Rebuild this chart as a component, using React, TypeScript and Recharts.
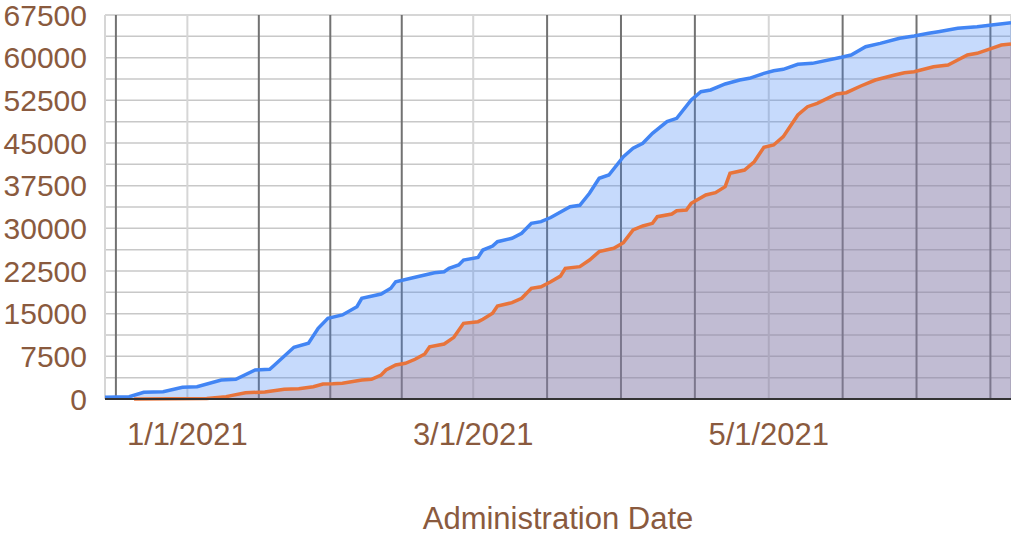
import { ComposedChart, Area, Line, XAxis, YAxis, CartesianGrid } from 'recharts'

// first dose (blue)
const firstDoseDates = [
  '2020-12-15', '2020-12-20', '2020-12-23', '2020-12-27', '2020-12-31', '2021-01-03',
  '2021-01-08', '2021-01-11', '2021-01-15', '2021-01-18', '2021-01-19', '2021-01-23',
  '2021-01-26', '2021-01-28', '2021-01-30', '2021-02-02', '2021-02-05', '2021-02-06',
  '2021-02-10', '2021-02-12', '2021-02-13', '2021-02-17', '2021-02-19', '2021-02-21',
  '2021-02-23', '2021-02-24', '2021-02-26', '2021-02-27', '2021-03-02', '2021-03-03',
  '2021-03-05', '2021-03-06', '2021-03-09', '2021-03-11', '2021-03-13', '2021-03-15',
  '2021-03-17', '2021-03-21', '2021-03-23', '2021-03-25', '2021-03-27', '2021-03-29',
  '2021-04-01', '2021-04-03', '2021-04-05', '2021-04-07', '2021-04-10', '2021-04-12',
  '2021-04-15', '2021-04-17', '2021-04-19', '2021-04-22', '2021-04-25', '2021-04-27',
  '2021-04-30', '2021-05-02', '2021-05-04', '2021-05-07', '2021-05-10', '2021-05-16',
  '2021-05-18', '2021-05-21', '2021-05-24', '2021-05-28', '2021-05-31', '2021-06-03',
  '2021-06-05', '2021-06-09', '2021-06-13', '2021-06-16', '2021-06-20',
]
const firstDoseValues = [
  300, 400, 1180, 1280, 2050, 2160,
  3340, 3460, 5100, 5220, 5980, 9090,
  9790, 12430, 14190, 14770, 16220, 17700,
  18460, 19460, 20620, 21390, 21800, 22200,
  22380, 22970, 23550, 24430, 24900, 26190,
  26890, 27650, 28250, 29120, 30880, 31170,
  31900, 33800, 34050, 36160, 38790, 39380,
  42590, 44070, 44950, 46700, 48750, 49340,
  52560, 54020, 54320, 55370, 56070, 56370,
  57250, 57710, 57950, 58830, 59000, 60060,
  60470, 61930, 62520, 63400, 63810, 64280,
  64570, 65160, 65440, 65740, 66150,
]

// fully vaccinated (orange)
const fullDoseDates = [
  '2020-12-21', '2021-01-05', '2021-01-09', '2021-01-10', '2021-01-13', '2021-01-17',
  '2021-01-21', '2021-01-24', '2021-01-27', '2021-01-29', '2021-01-31', '2021-02-02',
  '2021-02-06', '2021-02-08', '2021-02-10', '2021-02-11', '2021-02-13', '2021-02-15',
  '2021-02-17', '2021-02-19', '2021-02-20', '2021-02-23', '2021-02-25', '2021-02-27',
  '2021-03-02', '2021-03-03', '2021-03-05', '2021-03-06', '2021-03-09', '2021-03-11',
  '2021-03-13', '2021-03-15', '2021-03-17', '2021-03-19', '2021-03-20', '2021-03-23',
  '2021-03-25', '2021-03-27', '2021-03-30', '2021-04-01', '2021-04-03', '2021-04-05',
  '2021-04-07', '2021-04-08', '2021-04-11', '2021-04-12', '2021-04-14', '2021-04-15',
  '2021-04-18', '2021-04-20', '2021-04-22', '2021-04-23', '2021-04-26', '2021-04-28',
  '2021-04-30', '2021-05-02', '2021-05-04', '2021-05-07', '2021-05-09', '2021-05-11',
  '2021-05-15', '2021-05-17', '2021-05-20', '2021-05-23', '2021-05-27', '2021-05-29',
  '2021-05-31', '2021-06-04', '2021-06-07', '2021-06-09', '2021-06-11', '2021-06-13',
  '2021-06-16', '2021-06-18', '2021-06-20',
]
const fullDoseValues = [
  0, 80, 400, 600, 1110, 1230,
  1700, 1810, 2160, 2640, 2680, 2760,
  3340, 3460, 4220, 5100, 5980, 6270,
  6980, 7910, 9190, 9670, 10840, 13300,
  13590, 14010, 15060, 16350, 16930, 17700,
  19460, 19740, 20620, 21600, 22970, 23260,
  24430, 25900, 26490, 27480, 29710, 30410,
  30880, 32050, 32520, 33100, 33220, 34400,
  35860, 36260, 37320, 39670, 40250, 41710,
  44240, 44650, 46110, 49920, 51380, 51970,
  53610, 53840, 55020, 56070, 56950, 57360,
  57530, 58410, 58710, 59590, 60470, 60760,
  61640, 62230, 62400,
]

const startDate = '2020-12-15'
const endDate = '2021-06-20'
const monthTickDates = ['2021-01-01', '2021-03-01', '2021-05-01']
const monthTickLabels = ['1/1/2021', '3/1/2021', '5/1/2021']
// darker gridlines, in days from 1/1/2021
const minorGridDays = [-14.75, 14.75, 29.5, 44.25, 74.25, 89.5, 104.75, 135.25, 150.5, 165.75]
const yTicks = [
  0, 3750, 7500, 11250, 15000, 18750, 22500, 26250, 30000, 33750,
  37500, 41250, 45000, 48750, 52500, 56250, 60000, 63750, 67500,
]

const ORIGIN = Date.parse('2021-01-01')
const toDay = (s: string) => (Date.parse(s) - ORIGIN) / 86400000

const firstDose = firstDoseDates.map((d, i) => ({ day: toDay(d), value: firstDoseValues[i] }))
const fullDose = fullDoseDates.map((d, i) => ({ day: toDay(d), value: fullDoseValues[i] }))
const monthTicks = monthTickDates.map(toDay)
const xDomain = [toDay(startDate), toDay(endDate)]

const FONT = '"Liberation Sans", Arial, sans-serif'
const TEXT = '#8a5a3e'
const BLUE = '#4285f4'
const ORANGE = '#e8743b'

// place the darker vertical lines through the x axis scale
const minorLines = ({ xAxis }: any) => {
  const scale = xAxis?.scale
  if (!scale) return []
  const fn = typeof scale === 'function' ? scale : scale.map?.bind(scale)
  if (!fn) return []
  return minorGridDays.map((d) => fn(d))
}

export default function App() {
  return (
    <div style={{ position: 'absolute', left: 0, top: 0, width: 1011, height: 535, background: '#fff' }}>
      <ComposedChart width={1011} height={535} margin={{ top: 15, right: 0, bottom: 0, left: 0 }}>
        <CartesianGrid vertical={false} stroke="#c8c8c8" strokeWidth={1.5} />
        <CartesianGrid horizontal={false} stroke="#d6d6d6" strokeWidth={2} />
        <CartesianGrid horizontal={false} stroke="#727272" strokeWidth={2} verticalCoordinatesGenerator={minorLines} />
        <XAxis
          type="number"
          dataKey="day"
          domain={xDomain}
          ticks={monthTicks}
          interval={0}
          tickFormatter={(v) => monthTickLabels[monthTicks.indexOf(v)] ?? ''}
          height={136}
          tickLine={false}
          tickMargin={18}
          axisLine={{ stroke: '#333', strokeWidth: 2 }}
          tick={{ fontSize: 31, fontFamily: FONT, fill: TEXT }}
          label={{ value: 'Administration Date', position: 'insideBottom', offset: 6, fill: TEXT, fontSize: 31, fontFamily: FONT }}
        />
        <YAxis
          type="number"
          domain={[0, 67500]}
          ticks={yTicks}
          interval={0}
          width={105}
          axisLine={false}
          tickLine={false}
          tickMargin={12}
          tickFormatter={(v) => (v % 7500 === 0 ? String(v) : '')}
          tick={{ fontSize: 30, fontFamily: FONT, fill: TEXT }}
        />
        <Area data={fullDose} dataKey="value" type="linear" stroke="none" fill={ORANGE} fillOpacity={0.3} isAnimationActive={false} />
        <Area data={firstDose} dataKey="value" type="linear" stroke="none" fill={BLUE} fillOpacity={0.3} isAnimationActive={false} />
        <Line data={firstDose} dataKey="value" type="linear" stroke={BLUE} strokeWidth={3.5} dot={false} activeDot={false} isAnimationActive={false} />
        <Line data={fullDose} dataKey="value" type="linear" stroke={ORANGE} strokeWidth={3.5} dot={false} activeDot={false} isAnimationActive={false} />
      </ComposedChart>
    </div>
  )
}
